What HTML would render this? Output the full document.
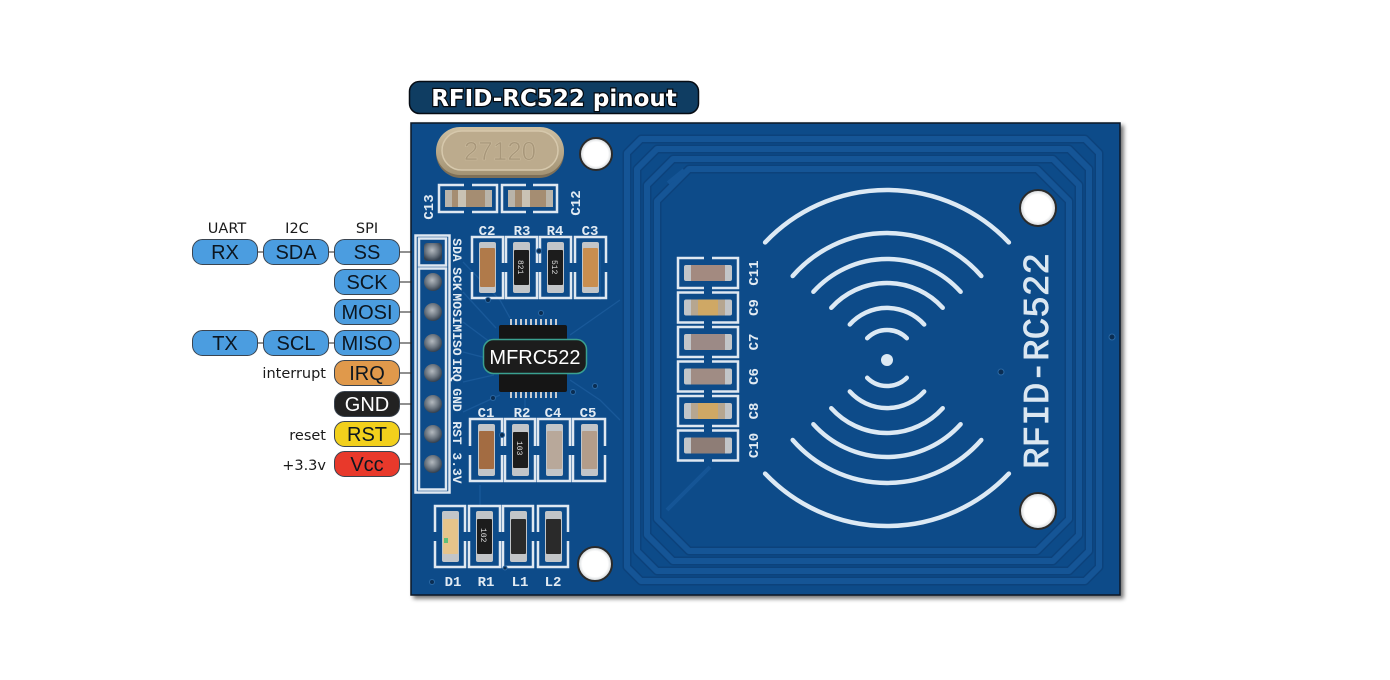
<!DOCTYPE html>
<html><head><meta charset="utf-8">
<style>
html,body{margin:0;padding:0;background:#fff;}
svg{display:block;}
</style></head>
<body>
<svg width="1390" height="680" viewBox="0 0 1390 680" xmlns="http://www.w3.org/2000/svg">
<defs>
<filter id="sh" x="-3%" y="-3%" width="108%" height="110%"><feGaussianBlur in="SourceAlpha" stdDeviation="2"/><feOffset dx="3" dy="3"/><feComponentTransfer><feFuncA type="linear" slope="0.55"/></feComponentTransfer><feMerge><feMergeNode/><feMergeNode in="SourceGraphic"/></feMerge></filter>
<radialGradient id="pin" cx="0.45" cy="0.4" r="0.6"><stop offset="0" stop-color="#b4babf"/><stop offset="0.6" stop-color="#6b7580"/><stop offset="1" stop-color="#34404e"/></radialGradient>
<linearGradient id="xtal" x1="0" y1="0" x2="0" y2="1"><stop offset="0" stop-color="#cfc0a2"/><stop offset="1" stop-color="#a39374"/></linearGradient>
<radialGradient id="hole" cx="0.5" cy="0.5" r="0.5"><stop offset="0.75" stop-color="#ffffff"/><stop offset="1" stop-color="#cfd3d6"/></radialGradient>
</defs>

<!-- Title -->
<rect x="409.5" y="81.5" width="289" height="32" rx="10" fill="#0f3d62" stroke="#060c14" stroke-width="1.5"/>
<text x="554" y="106" text-anchor="middle" font-family="DejaVu Sans, sans-serif" font-weight="bold" font-size="23" fill="#ffffff" stroke="#050a10" stroke-width="2.5" paint-order="stroke">RFID-RC522 pinout</text>

<!-- Board -->
<rect x="411" y="123" width="709" height="472" fill="#0f4b89" stroke="#0a1626" stroke-width="1.5" filter="url(#sh)"/>

<!-- antenna loops -->
<g fill="none" stroke="#0c427b" stroke-width="9" stroke-linejoin="round">
<path d="M641,139 H1085 L1099,153 V567 L1085,581 H641 L627,567 V153 Z"/>
<path d="M657,149 H1069 L1089,169 V551 L1069,571 H657 L637,551 V169 Z"/>
<path d="M673,159 H1053 L1079,185 V535 L1053,561 H673 L647,535 V185 Z"/>
<path d="M689,169 H1037 L1069,201 V519 L1037,551 H689 L657,519 V201 Z"/>
</g>
<g fill="none" stroke="#155596" stroke-width="6" stroke-linejoin="round">
<path d="M641,139 H1085 L1099,153 V567 L1085,581 H641 L627,567 V153 Z"/>
<path d="M657,149 H1069 L1089,169 V551 L1069,571 H657 L637,551 V169 Z"/>
<path d="M673,159 H1053 L1079,185 V535 L1053,561 H673 L647,535 V185 Z"/>
<path d="M689,169 H1037 L1069,201 V519 L1037,551 H689 L657,519 V201 Z"/>
</g>
<path d="M667,510 L710,467" stroke="#155596" stroke-width="4" fill="none"/>
<path d="M668,183 L684,170" stroke="#155596" stroke-width="4" fill="none"/>

<!-- faint traces -->
<g stroke="#1f5fa0" stroke-width="1.3" fill="none" opacity="0.7">
<path d="M463,262 L500,300 L510,318"/>
<path d="M463,292 L496,328"/>
<path d="M463,322 L494,345"/>
<path d="M463,352 L494,360"/>
<path d="M463,382 L494,375"/>
<path d="M463,412 L500,395"/>
<path d="M570,335 L620,300"/>
<path d="M570,380 L600,400 L620,420"/>
<path d="M525,395 L525,420"/>
<path d="M600,300 L600,250"/>
<path d="M480,485 L480,505"/>
</g>

<!-- holes -->
<g stroke="#2b2b2b" stroke-width="2">
<circle cx="596" cy="154" r="16" fill="url(#hole)"/>
<circle cx="1038" cy="208" r="18" fill="url(#hole)"/>
<circle cx="1038" cy="511" r="18" fill="url(#hole)"/>
<circle cx="595" cy="564" r="17" fill="url(#hole)"/>
</g>

<!-- crystal -->
<rect x="436" y="128" width="128" height="50" rx="25" fill="#7e7058"/>
<rect x="436" y="127" width="128" height="48" rx="24" fill="url(#xtal)"/>
<rect x="442" y="131" width="116" height="39" rx="19.5" fill="#bcab8d" stroke="#d6c8ac" stroke-width="1.5"/>
<text x="500" y="160" text-anchor="middle" font-family="Liberation Sans, sans-serif" font-size="26" fill="#a8977a" stroke="#c9b99c" stroke-width="0.6">27120</text>

<!-- silkscreen footprints -->
<g fill="none" stroke="#dfe8f1" stroke-width="2.5">
<path d="M464,185 H439 V212 H464 M472,185 H497 V212 H472"/>
<path d="M526,185 H502 V212 H526 M533,185 H557 V212 H533"/>
<rect x="415.5" y="235.5" width="34" height="257"/>
<rect x="419" y="238.5" width="27" height="27"/>
<rect x="419" y="268.5" width="27" height="221"/>
<path d="M472,263 V237 H503 V263 M472,272 V298 H503 V272"/>
<path d="M506,263 V237 H537 V263 M506,272 V298 H537 V272"/>
<path d="M540,263 V237 H571 V263 M540,272 V298 H571 V272"/>
<path d="M575,263 V237 H606 V263 M575,272 V298 H606 V272"/>
<path d="M470,446 V419 H502 V446 M470,455 V481 H502 V455"/>
<path d="M505,446 V419 H535 V446 M505,455 V481 H535 V455"/>
<path d="M538,446 V419 H570 V446 M538,455 V481 H570 V455"/>
<path d="M573,446 V419 H605 V446 M573,455 V481 H605 V455"/>
<path d="M435,532 V506 H465 V532 M435,541 V567 H465 V541"/>
<path d="M469,532 V506 H500 V532 M469,541 V567 H500 V541"/>
<path d="M503,532 V506 H533 V532 M503,541 V567 H533 V541"/>
<path d="M538,532 V506 H568 V532 M538,541 V567 H568 V541"/>
<path d="M704,258 H678 V288 H704 M712,258 H738 V288 H712"/>
<path d="M704,292.5 H678 V322.5 H704 M712,292.5 H738 V322.5 H712"/>
<path d="M704,327 H678 V357 H704 M712,327 H738 V357 H712"/>
<path d="M704,361.5 H678 V391.5 H704 M712,361.5 H738 V391.5 H712"/>
<path d="M704,396 H678 V426 H704 M712,396 H738 V426 H712"/>
<path d="M704,430.5 H678 V460.5 H704 M712,430.5 H738 V460.5 H712"/>
</g>

<!-- C13 / C12 components -->
<g>
<rect x="445" y="190" width="47" height="17" fill="#b9b4aa"/>
<rect x="452" y="190" width="33" height="17" fill="#a58d72"/>
<rect x="458" y="190" width="8" height="17" fill="#c9c2b4"/>
<rect x="508" y="190" width="45" height="17" fill="#b9b4aa"/>
<rect x="515" y="190" width="31" height="17" fill="#a58d72"/>
<rect x="522" y="190" width="8" height="17" fill="#c9c2b4"/>
</g>

<g>
<rect x="479" y="242" width="17" height="51" rx="2" fill="#c2c5c8"/>
<rect x="480" y="248" width="15" height="39" rx="1" fill="#b07a4a"/>
<rect x="513" y="242" width="17" height="51" rx="2" fill="#c2c5c8"/>
<rect x="514" y="250" width="15" height="35" rx="1" fill="#1c1c1c"/>
<text transform="translate(518,260) rotate(90)" font-family="Liberation Mono, monospace" font-size="8" fill="#ddd">821</text>
<rect x="547" y="242" width="17" height="51" rx="2" fill="#c2c5c8"/>
<rect x="548" y="250" width="15" height="35" rx="1" fill="#1c1c1c"/>
<text transform="translate(552,260) rotate(90)" font-family="Liberation Mono, monospace" font-size="8" fill="#ddd">512</text>
<rect x="582" y="242" width="17" height="51" rx="2" fill="#c2c5c8"/>
<rect x="583" y="248" width="15" height="39" rx="1" fill="#c98e4f"/>
<rect x="478" y="424" width="17" height="52" rx="2" fill="#c2c5c8"/>
<rect x="479" y="431" width="15" height="38" rx="1" fill="#a36c42"/>
<rect x="512" y="424" width="17" height="52" rx="2" fill="#c2c5c8"/>
<rect x="513" y="432" width="15" height="36" rx="1" fill="#1c1c1c"/>
<text transform="translate(517,441) rotate(90)" font-family="Liberation Mono, monospace" font-size="8" fill="#ddd">103</text>
<rect x="546" y="424" width="17" height="52" rx="2" fill="#c2c5c8"/>
<rect x="547" y="431" width="15" height="38" rx="1" fill="#b8a89a"/>
<rect x="581" y="424" width="17" height="52" rx="2" fill="#c2c5c8"/>
<rect x="582" y="431" width="15" height="38" rx="1" fill="#b39d8a"/>
<rect x="442" y="511" width="17" height="51" rx="2" fill="#c2c5c8"/>
<rect x="443" y="519" width="15" height="35" rx="1" fill="#e6c48b"/>
<rect x="444" y="538" width="4" height="5" fill="#5fbf7a"/>
<rect x="476" y="511" width="17" height="51" rx="2" fill="#c2c5c8"/>
<rect x="477" y="519" width="15" height="35" rx="1" fill="#1c1c1c"/>
<text transform="translate(481,528) rotate(90)" font-family="Liberation Mono, monospace" font-size="8" fill="#ddd">102</text>
<rect x="510" y="511" width="17" height="51" rx="2" fill="#c2c5c8"/>
<rect x="511" y="519" width="15" height="35" rx="1" fill="#2a2a2a"/>
<rect x="545" y="511" width="17" height="51" rx="2" fill="#c2c5c8"/>
<rect x="546" y="519" width="15" height="35" rx="1" fill="#2a2a2a"/>
</g>

<g>
<rect x="684" y="265" width="48" height="16" rx="2" fill="#c2c5c8"/><rect x="691" y="265" width="34" height="16" fill="#a38a80"/>
<rect x="684" y="299.5" width="48" height="16" rx="2" fill="#c2c5c8"/><rect x="691" y="299.5" width="34" height="16" fill="#b6a690"/><rect x="698" y="299.5" width="20" height="16" fill="#cfa865"/>
<rect x="684" y="334" width="48" height="16" rx="2" fill="#c2c5c8"/><rect x="691" y="334" width="34" height="16" fill="#9c8a86"/>
<rect x="684" y="368.5" width="48" height="16" rx="2" fill="#c2c5c8"/><rect x="691" y="368.5" width="34" height="16" fill="#a08c84"/>
<rect x="684" y="403" width="48" height="16" rx="2" fill="#c2c5c8"/><rect x="691" y="403" width="34" height="16" fill="#b6a690"/><rect x="698" y="403" width="20" height="16" fill="#cfa865"/>
<rect x="684" y="437.5" width="48" height="16" rx="2" fill="#c2c5c8"/><rect x="691" y="437.5" width="34" height="16" fill="#8e7d76"/>
</g>

<!-- MFRC522 chip -->
<g fill="#c9ccd0">
<rect x="510" y="319" width="2" height="6"/><rect x="515" y="319" width="2" height="6"/><rect x="520" y="319" width="2" height="6"/><rect x="525" y="319" width="2" height="6"/><rect x="530" y="319" width="2" height="6"/><rect x="535" y="319" width="2" height="6"/><rect x="540" y="319" width="2" height="6"/><rect x="545" y="319" width="2" height="6"/><rect x="550" y="319" width="2" height="6"/><rect x="555" y="319" width="2" height="6"/>
<rect x="510" y="392" width="2" height="6"/><rect x="515" y="392" width="2" height="6"/><rect x="520" y="392" width="2" height="6"/><rect x="525" y="392" width="2" height="6"/><rect x="530" y="392" width="2" height="6"/><rect x="535" y="392" width="2" height="6"/><rect x="540" y="392" width="2" height="6"/><rect x="545" y="392" width="2" height="6"/><rect x="550" y="392" width="2" height="6"/><rect x="555" y="392" width="2" height="6"/>
</g>
<rect x="499" y="325" width="68" height="67" rx="2" fill="#151515"/>
<rect x="483.5" y="339.5" width="103" height="34" rx="10" fill="#1c1c1c" stroke="#3aa090" stroke-width="1.5"/>
<text x="535" y="364" text-anchor="middle" font-family="Liberation Sans, sans-serif" font-size="20" fill="#ffffff">MFRC522</text>

<!-- header pins -->
<rect x="424" y="243" width="18" height="18" rx="3" fill="url(#pin)"/>
<circle cx="433" cy="282" r="9" fill="url(#pin)"/>
<circle cx="433" cy="312" r="9" fill="url(#pin)"/>
<circle cx="433" cy="343" r="9" fill="url(#pin)"/>
<circle cx="433" cy="373" r="9" fill="url(#pin)"/>
<circle cx="433" cy="404" r="9" fill="url(#pin)"/>
<circle cx="433" cy="434" r="9" fill="url(#pin)"/>
<circle cx="433" cy="464" r="9" fill="url(#pin)"/>

<!-- vias -->
<g fill="#0a2d52" stroke="#2a68a4" stroke-width="1">
<circle cx="539" cy="251" r="2.5"/><circle cx="488" cy="300" r="2.5"/><circle cx="541" cy="313" r="2.5"/>
<circle cx="573" cy="392" r="2.5"/><circle cx="595" cy="386" r="2.5"/><circle cx="493" cy="398" r="2.5"/>
<circle cx="502" cy="435" r="2.5"/><circle cx="432" cy="582" r="2.5"/><circle cx="505" cy="568" r="2"/>
<circle cx="1001" cy="372" r="3"/><circle cx="1112" cy="337" r="3"/>
</g>

<!-- silkscreen text -->
<g font-family="Liberation Mono, monospace" font-weight="bold" fill="#e2ebf3">
<g font-size="14">
<text x="487" y="235" text-anchor="middle">C2</text>
<text x="522" y="235" text-anchor="middle">R3</text>
<text x="555" y="235" text-anchor="middle">R4</text>
<text x="590" y="235" text-anchor="middle">C3</text>
<text x="486" y="417" text-anchor="middle">C1</text>
<text x="522" y="417" text-anchor="middle">R2</text>
<text x="553" y="417" text-anchor="middle">C4</text>
<text x="588" y="417" text-anchor="middle">C5</text>
<text x="453" y="586" text-anchor="middle">D1</text>
<text x="486" y="586" text-anchor="middle">R1</text>
<text x="520" y="586" text-anchor="middle">L1</text>
<text x="553" y="586" text-anchor="middle">L2</text>
<text transform="translate(433,207) rotate(-90)" text-anchor="middle">C13</text>
<text transform="translate(580,203) rotate(-90)" text-anchor="middle">C12</text>
<text transform="translate(758,273) rotate(-90)" text-anchor="middle">C11</text>
<text transform="translate(758,307.5) rotate(-90)" text-anchor="middle">C9</text>
<text transform="translate(758,342) rotate(-90)" text-anchor="middle">C7</text>
<text transform="translate(758,376.5) rotate(-90)" text-anchor="middle">C6</text>
<text transform="translate(758,411) rotate(-90)" text-anchor="middle">C8</text>
<text transform="translate(758,445.5) rotate(-90)" text-anchor="middle">C10</text>
</g>
<g font-size="13">
<text transform="translate(453,250) rotate(90)" text-anchor="middle">SDA</text>
<text transform="translate(453,279) rotate(90)" text-anchor="middle">SCK</text>
<text transform="translate(453,309) rotate(90)" text-anchor="middle">MOSI</text>
<text transform="translate(453,340) rotate(90)" text-anchor="middle">MISO</text>
<text transform="translate(453,370) rotate(90)" text-anchor="middle">IRQ</text>
<text transform="translate(453,400) rotate(90)" text-anchor="middle">GND</text>
<text transform="translate(453,433) rotate(90)" text-anchor="middle">RST</text>
<text transform="translate(453,468) rotate(90)" text-anchor="middle">3.3V</text>
</g>
</g>

<!-- waves -->
<g fill="none" stroke="#dce9f4" stroke-width="4.5" stroke-linecap="round">
<path d="M867.2,338.2 A28,28 0 0 1 906.8,338.2"/>
<path d="M849.8,324.5 A50,50 0 0 1 924.2,324.5"/>
<path d="M831.3,307.8 A75,75 0 0 1 942.7,307.8"/>
<path d="M813.4,291.8 A99,99 0 0 1 960.6,291.8"/>
<path d="M792.7,276 A125,125 0 0 1 981.3,276"/>
<path d="M765.1,242.4 A168,168 0 0 1 1008.9,242.4"/>
<path d="M867.2,377.8 A28,28 0 0 0 906.8,377.8"/>
<path d="M849.8,391.5 A50,50 0 0 0 924.2,391.5"/>
<path d="M831.3,408.2 A75,75 0 0 0 942.7,408.2"/>
<path d="M813.4,424.2 A99,99 0 0 0 960.6,424.2"/>
<path d="M792.7,440 A125,125 0 0 0 981.3,440"/>
<path d="M765.1,473.6 A168,168 0 0 0 1008.9,473.6"/>
</g>
<circle cx="887" cy="360" r="6" fill="#dce9f4"/>
<text transform="translate(1048,361) rotate(-90)" text-anchor="middle" font-family="Liberation Mono, monospace" font-size="36" fill="#dbe7f1" stroke="#dbe7f1" stroke-width="0.8">RFID-RC522</text>

<!-- connector lines -->
<g stroke="#222" stroke-width="1">
<line x1="400" y1="252" x2="412" y2="252"/>
<line x1="400" y1="282" x2="412" y2="282"/>
<line x1="400" y1="312" x2="412" y2="312"/>
<line x1="400" y1="343" x2="412" y2="343"/>
<line x1="400" y1="373" x2="412" y2="373"/>
<line x1="400" y1="404" x2="412" y2="404"/>
<line x1="400" y1="434" x2="412" y2="434"/>
<line x1="400" y1="464" x2="412" y2="464"/>
<line x1="258" y1="252" x2="263" y2="252"/>
<line x1="329" y1="252" x2="334" y2="252"/>
<line x1="258" y1="343" x2="263" y2="343"/>
<line x1="329" y1="343" x2="334" y2="343"/>
</g>

<!-- pills -->
<g stroke="#3a4450" stroke-width="1">
<rect x="192.5" y="239.5" width="65" height="25" rx="10" fill="#4b9de0"/>
<rect x="263.5" y="239.5" width="65" height="25" rx="10" fill="#4b9de0"/>
<rect x="334.5" y="239.5" width="65" height="25" rx="10" fill="#4b9de0"/>
<rect x="334.5" y="269.5" width="65" height="25" rx="10" fill="#4b9de0"/>
<rect x="334.5" y="299.5" width="65" height="25" rx="10" fill="#4b9de0"/>
<rect x="192.5" y="330.5" width="65" height="25" rx="10" fill="#4b9de0"/>
<rect x="263.5" y="330.5" width="65" height="25" rx="10" fill="#4b9de0"/>
<rect x="334.5" y="330.5" width="65" height="25" rx="10" fill="#4b9de0"/>
<rect x="334.5" y="360.5" width="65" height="25" rx="10" fill="#e0994b"/>
<rect x="334.5" y="391.5" width="65" height="25" rx="10" fill="#222222"/>
<rect x="334.5" y="421.5" width="65" height="25" rx="10" fill="#f2d01c"/>
<rect x="334.5" y="451.5" width="65" height="25" rx="10" fill="#e8392b"/>
</g>
<g font-family="Liberation Sans, sans-serif" font-size="20" fill="#0c1620" text-anchor="middle">
<text x="225" y="259">RX</text>
<text x="296" y="259">SDA</text>
<text x="367" y="259">SS</text>
<text x="367" y="289">SCK</text>
<text x="367" y="319">MOSI</text>
<text x="225" y="350">TX</text>
<text x="296" y="350">SCL</text>
<text x="367" y="350">MISO</text>
<text x="367" y="380">IRQ</text>
<text x="367" y="411" fill="#ffffff">GND</text>
<text x="367" y="441">RST</text>
<text x="367" y="471">Vcc</text>
</g>
<g font-family="DejaVu Sans, sans-serif" font-size="14.5" fill="#1a1a1a">
<text x="227" y="233" text-anchor="middle">UART</text>
<text x="297" y="233" text-anchor="middle">I2C</text>
<text x="367" y="233" text-anchor="middle">SPI</text>
<text x="326" y="378" text-anchor="end">interrupt</text>
<text x="326" y="440" text-anchor="end">reset</text>
<text x="326" y="470" text-anchor="end">+3.3v</text>
</g>
</svg>
</body></html>
